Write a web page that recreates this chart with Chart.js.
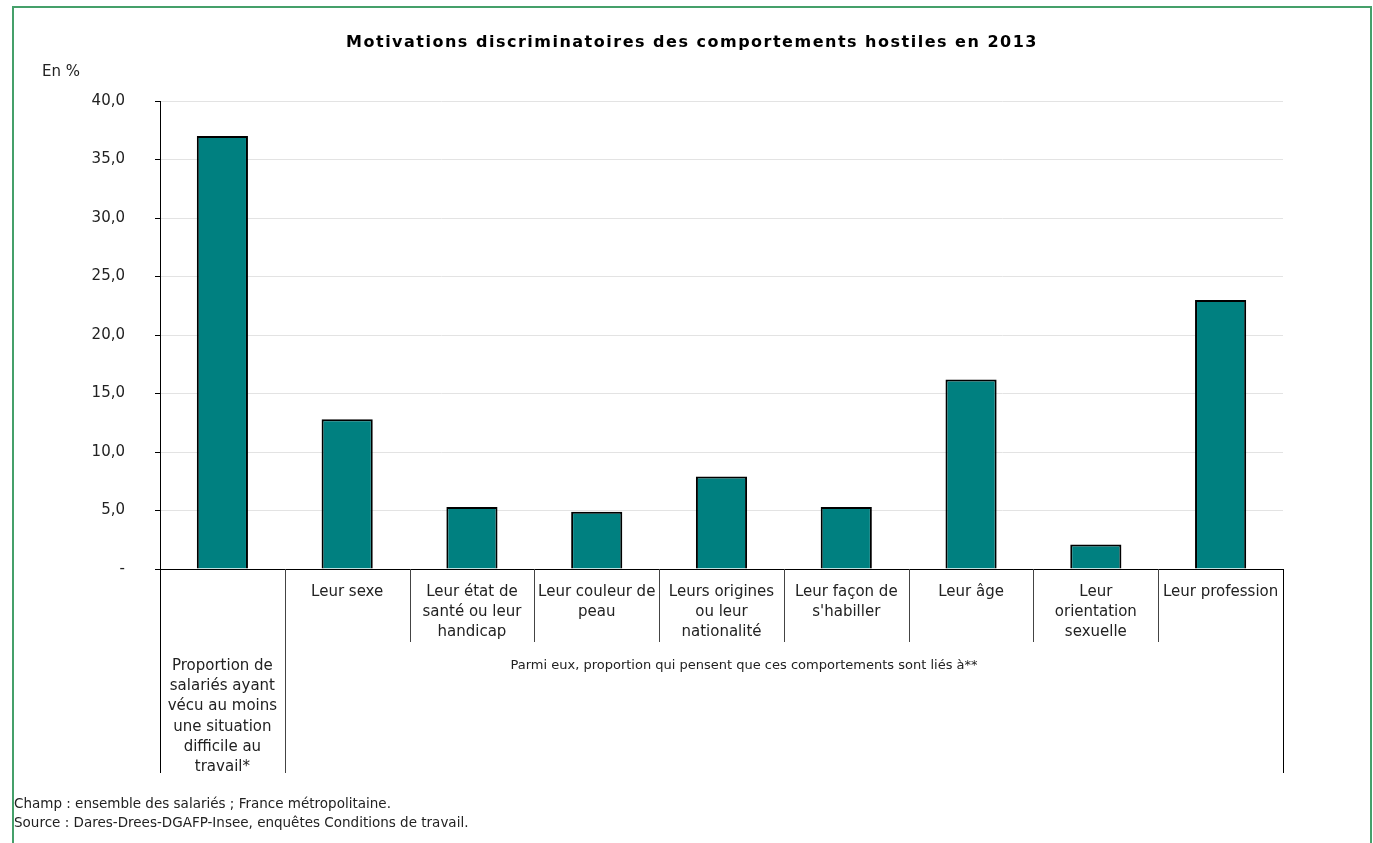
<!DOCTYPE html>
<html lang="fr">
<head>
<meta charset="UTF-8">
<script src="https://cdn.jsdelivr.net/npm/chart.js@4.4.1/dist/chart.umd.min.js"></script>
<title>Motivations discriminatoires</title>
<style>
  html, body { margin: 0; padding: 0; background: #fff; overflow: hidden; }
  #wrap { position: relative; width: 1373px; height: 843px; }
  #frame { position: absolute; left: 12px; top: 6px; width: 1356px; height: 860px;
           border: 2px solid #45a06a; pointer-events: none; }
</style>
</head>
<body>
<div id="wrap">
  <canvas id="myChart" width="1373" height="843"></canvas>
  <div id="frame"></div>
</div>
<script>
const title = 'Motivations discriminatoires des comportements hostiles en 2013';
const unitLabel = 'En %';
const categories = [
  ['Proportion de', 'salariés ayant', 'vécu au moins', 'une situation', 'difficile au', 'travail*'],
  ['Leur sexe'],
  ['Leur état de', 'santé ou leur', 'handicap'],
  ['Leur couleur de', 'peau'],
  ['Leurs origines', 'ou leur', 'nationalité'],
  ['Leur façon de', "s'habiller"],
  ['Leur âge'],
  ['Leur', 'orientation', 'sexuelle'],
  ['Leur profession']
];
const values = [37.0, 12.8, 5.3, 4.9, 7.9, 5.3, 16.2, 2.1, 23.0];
const groupLabel = 'Parmi eux, proportion qui pensent que ces comportements sont liés à**';
const notes = [
  'Champ : ensemble des salariés ; France métropolitaine.',
  'Source : Dares-Drees-DGAFP-Insee, enquêtes Conditions de travail.'
];

const FONT = '"DejaVu Sans", Verdana, sans-serif';

const extras = {
  id: 'extras',
  afterDraw(chart) {
    const ctx = chart.ctx;
    const x = chart.scales.x;
    const area = chart.chartArea;
    const n = categories.length;
    const step = (area.right - area.left) / n;
    ctx.save();

    // title
    ctx.fillStyle = '#000';
    ctx.font = 'bold 16px ' + FONT;
    ctx.letterSpacing = '1.5px';
    ctx.textAlign = 'center';
    ctx.textBaseline = 'middle';
    ctx.fillText(title, 692, 43);
    ctx.letterSpacing = '0px';

    // unit
    ctx.font = '15px ' + FONT;
    ctx.fillStyle = '#222';
    ctx.textAlign = 'left';
    ctx.fillText(unitLabel, 42, 72);

    // x axis line
    ctx.strokeStyle = '#000';
    ctx.lineWidth = 1;
    ctx.beginPath();
    ctx.moveTo(area.left - 5, Math.round(area.bottom) + 0.5);
    ctx.lineTo(area.right, Math.round(area.bottom) + 0.5);
    ctx.stroke();

    // category boundaries
    for (let i = 0; i <= n; i++) {
      const bx = Math.round(x.getPixelForValue(i) - step / 2) + 0.5;
      const long = (i === 0 || i === 1 || i === n);
      ctx.strokeStyle = i === 0 || i === n ? '#000' : '#444';
      ctx.beginPath();
      ctx.moveTo(bx, area.bottom);
      ctx.lineTo(bx, long ? 773 : 642);
      ctx.stroke();
    }

    // category labels
    ctx.fillStyle = '#222';
    ctx.font = '15px ' + FONT;
    ctx.textAlign = 'center';
    ctx.textBaseline = 'middle';
    categories.forEach((lines, i) => {
      const cx = x.getPixelForValue(i);
      const y0 = i === 0 ? 666 : 592;
      lines.forEach((t, k) => ctx.fillText(t, cx, y0 + k * 20.3));
    });

    // group label
    ctx.font = '13px ' + FONT;
    ctx.fillText(groupLabel, 744, 666);

    // notes
    ctx.font = '13.5px ' + FONT;
    ctx.textAlign = 'left';
    notes.forEach((t, k) => ctx.fillText(t, 14, 804 + k * 19));
    ctx.restore();
  }
};

const ctx = document.getElementById('myChart').getContext('2d');
new Chart(ctx, {
  type: 'bar',
  data: {
    labels: categories.map(l => l.join(' ')),
    datasets: [{
      data: values,
      backgroundColor: '#008080',
      borderColor: '#000',
      borderWidth: 2,
      barPercentage: 0.41,
      categoryPercentage: 1
    }]
  },
  options: {
    responsive: false,
    animation: false,
    layout: { padding: { left: 0, right: 90, top: 101, bottom: 274 } },
    plugins: { legend: { display: false }, tooltip: { enabled: false } },
    scales: {
      x: { display: false },
      y: {
        min: 0, max: 40,
        afterFit(scale) { scale.width = 160; },
        border: { color: '#000', width: 1 },
        grid: { color: '#e3e3e3', tickColor: '#000', tickLength: 5 },
        ticks: {
          stepSize: 5,
          padding: 30,
          color: '#222',
          font: { family: FONT, size: 15 },
          callback: v => v === 0 ? '-' : v.toFixed(1).replace('.', ',')
        }
      }
    }
  },
  plugins: [extras]
});
</script>
</body>
</html>
